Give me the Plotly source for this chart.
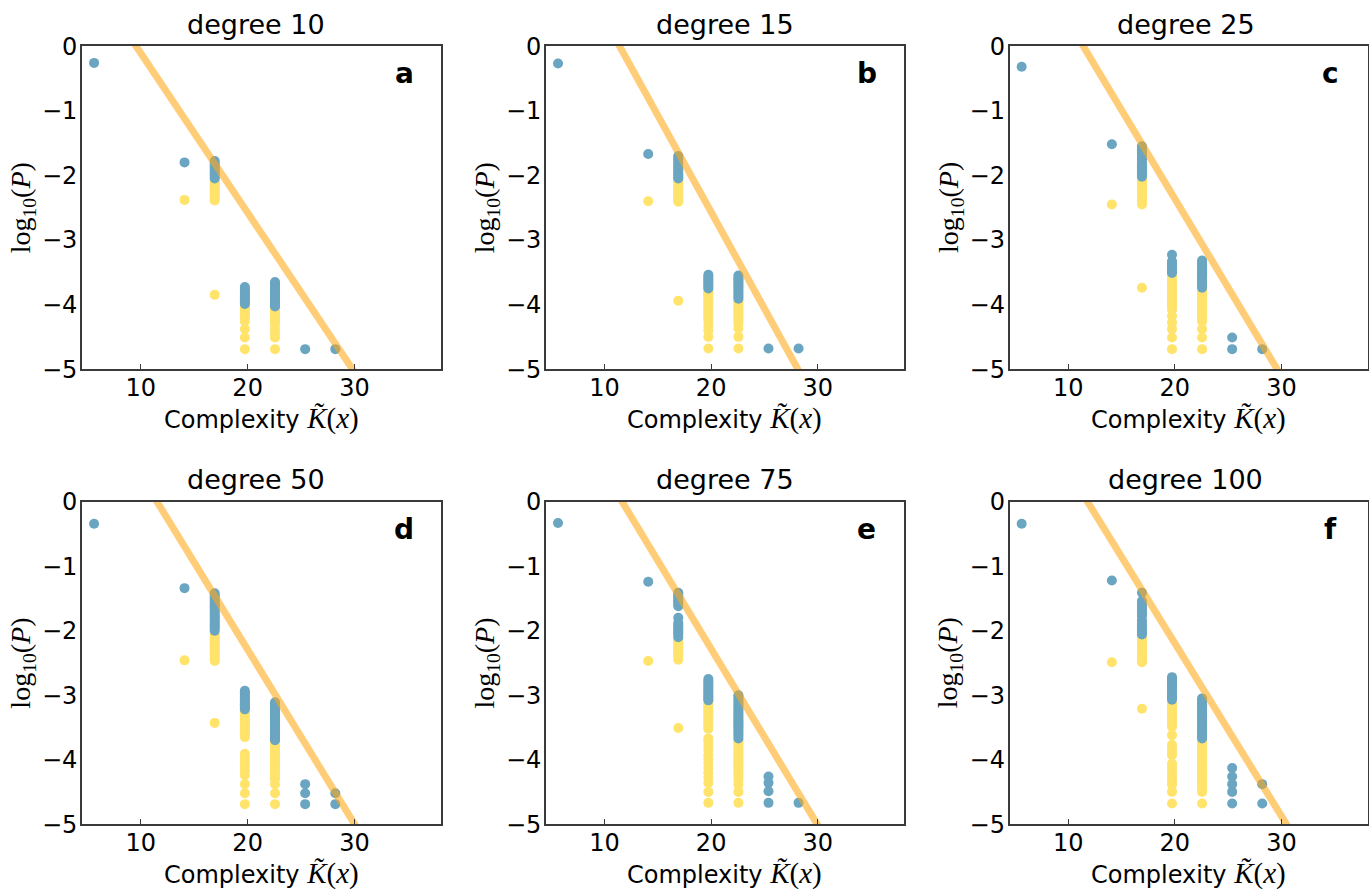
import plotly.graph_objects as go

# Complexity levels (x positions of the point columns)
complexity = [5.64, 14.10, 16.92, 19.74, 22.56, 25.38, 28.20]

degrees = [10, 15, 25, 50, 75, 100]
panel_letters = ["a", "b", "c", "d", "e", "f"]

# log10(P) values per complexity column: blue = sampled, yellow = predicted
blue_deg10 = [
    [-0.26],
    [-1.80],
    [-1.78, -1.81, -1.84, -1.87, -1.90, -1.93, -1.96, -1.99, -2.02, -2.05],
    [-3.73, -3.76, -3.79, -3.82, -3.85, -3.88, -3.91, -3.94, -3.97, -3.99],
    [-3.65, -3.68, -3.71, -3.74, -3.77, -3.80, -3.83, -3.86, -3.89, -3.92, -3.95, -3.98, -4.01, -4.03],
    [-4.69],
    [-4.69],
]
yellow_deg10 = [
    [],
    [-2.38],
    [-2.08, -2.11, -2.14, -2.17, -2.20, -2.23, -2.26, -2.29, -2.32, -2.35, -2.39, -3.85],
    [-4.02, -4.05, -4.08, -4.11, -4.14, -4.17, -4.20, -4.26, -4.38, -4.51, -4.69],
    [-4.06, -4.09, -4.12, -4.15, -4.18, -4.21, -4.26, -4.31, -4.38, -4.44, -4.51, -4.69],
    [],
    [],
]

blue_deg15 = [
    [-0.27],
    [-1.67],
    [-1.70, -1.73, -1.76, -1.79, -1.82, -1.85, -1.88, -1.91, -1.94, -1.97, -2.00, -2.03, -2.05],
    [-3.54, -3.57, -3.60, -3.63, -3.66, -3.69, -3.72, -3.75],
    [-3.55, -3.58, -3.61, -3.64, -3.67, -3.70, -3.73, -3.76, -3.79, -3.82, -3.85, -3.88, -3.91],
    [-4.68],
    [-4.68],
]
yellow_deg15 = [
    [],
    [-2.40],
    [-2.09, -2.12, -2.15, -2.18, -2.21, -2.24, -2.27, -2.30, -2.33, -2.36, -2.39, -2.41, -3.94],
    [-3.78, -3.81, -3.84, -3.87, -3.90, -3.93, -3.96, -3.99, -4.02, -4.05, -4.08, -4.11, -4.14,
     -4.17, -4.21, -4.26, -4.33, -4.40, -4.50, -4.68],
    [-3.94, -3.97, -4.00, -4.03, -4.06, -4.09, -4.12, -4.15, -4.18, -4.22, -4.26, -4.31, -4.37,
     -4.50, -4.68],
    [],
    [],
]

blue_deg25 = [
    [-0.32],
    [-1.52],
    [-1.55, -1.58, -1.61, -1.64, -1.67, -1.70, -1.73, -1.76, -1.79, -1.82, -1.85, -1.88, -1.91,
     -1.94, -1.97, -2.00, -2.02],
    [-3.23, -3.33, -3.36, -3.39, -3.42, -3.45, -3.48, -3.51],
    [-3.32, -3.35, -3.38, -3.41, -3.44, -3.47, -3.50, -3.53, -3.56, -3.59, -3.62, -3.65, -3.68,
     -3.71, -3.74],
    [-4.51, -4.69],
    [-4.69],
]
yellow_deg25 = [
    [],
    [-2.45],
    [-2.05, -2.08, -2.11, -2.14, -2.17, -2.20, -2.23, -2.26, -2.29, -2.32, -2.35, -2.38, -2.41,
     -2.45, -3.74],
    [-3.54, -3.57, -3.60, -3.63, -3.66, -3.69, -3.72, -3.75, -3.78, -3.81, -3.84, -3.87, -3.90,
     -3.93, -3.96, -3.99, -4.02, -4.05, -4.08, -4.18, -4.28, -4.38, -4.51, -4.69],
    [-3.77, -3.80, -3.83, -3.86, -3.89, -3.92, -3.95, -3.98, -4.01, -4.04, -4.07, -4.10, -4.13,
     -4.16, -4.20, -4.26, -4.38, -4.51, -4.69],
    [],
    [],
]

blue_deg50 = [
    [-0.34],
    [-1.34],
    [-1.42, -1.45, -1.48, -1.51, -1.54, -1.57, -1.60, -1.63, -1.66, -1.69, -1.72, -1.75, -1.78,
     -1.81, -1.84, -1.87, -1.90, -1.93, -1.96, -2.00],
    [-2.93, -2.96, -2.99, -3.02, -3.05, -3.08, -3.11, -3.14, -3.17, -3.20, -3.22],
    [-3.11, -3.14, -3.17, -3.20, -3.23, -3.26, -3.29, -3.32, -3.35, -3.38, -3.41, -3.44, -3.47,
     -3.50, -3.53, -3.56, -3.59, -3.62, -3.65, -3.68, -3.70],
    [-4.38, -4.52, -4.69],
    [-4.52, -4.69],
]
yellow_deg50 = [
    [],
    [-2.46],
    [-2.06, -2.09, -2.12, -2.15, -2.18, -2.21, -2.24, -2.27, -2.30, -2.33, -2.36, -2.39, -2.42,
     -2.45, -2.47, -3.43],
    [-3.26, -3.29, -3.32, -3.35, -3.38, -3.41, -3.44, -3.47, -3.50, -3.53, -3.56, -3.59, -3.62,
     -3.65, -3.91, -3.97, -4.04, -4.10, -4.17, -4.24, -4.38, -4.52, -4.69],
    [-3.73, -3.76, -3.79, -3.82, -3.85, -3.88, -3.91, -3.94, -3.97, -4.00, -4.03, -4.06, -4.09,
     -4.12, -4.15, -4.18, -4.22, -4.26, -4.30, -4.38, -4.52, -4.69],
    [],
    [],
]

blue_deg75 = [
    [-0.33],
    [-1.24],
    [-1.41, -1.44, -1.47, -1.50, -1.53, -1.56, -1.59, -1.62, -1.80, -1.88, -1.91, -1.94, -1.97,
     -2.00, -2.03, -2.06, -2.10],
    [-2.75, -2.78, -2.81, -2.84, -2.87, -2.90, -2.93, -2.96, -2.99, -3.02, -3.05, -3.08],
    [-3.00, -3.03, -3.06, -3.09, -3.12, -3.15, -3.18, -3.21, -3.24, -3.27, -3.30, -3.33, -3.36,
     -3.39, -3.42, -3.45, -3.48, -3.51, -3.54, -3.57, -3.60, -3.63, -3.67],
    [-4.26, -4.36, -4.49, -4.67],
    [-4.67],
]
yellow_deg75 = [
    [],
    [-2.47],
    [-2.14, -2.17, -2.20, -2.23, -2.26, -2.29, -2.32, -2.35, -2.38, -2.41, -2.45, -3.51],
    [-3.13, -3.16, -3.19, -3.22, -3.25, -3.28, -3.31, -3.34, -3.37, -3.40, -3.43, -3.46, -3.49,
     -3.52, -3.67, -3.72, -3.78, -3.85, -3.93, -3.99, -4.06, -4.13, -4.20, -4.28, -4.36, -4.50,
     -4.67],
    [-3.70, -3.73, -3.76, -3.79, -3.82, -3.85, -3.88, -3.91, -3.94, -3.97, -4.00, -4.03, -4.06,
     -4.09, -4.12, -4.15, -4.19, -4.23, -4.27, -4.32, -4.39, -4.50, -4.67],
    [],
    [],
]

blue_deg100 = [
    [-0.34],
    [-1.22],
    [-1.41, -1.54, -1.58, -1.62, -1.66, -1.70, -1.74, -1.77, -1.84, -1.88, -1.92, -1.96, -2.00,
     -2.03, -2.06],
    [-2.72, -2.75, -2.78, -2.81, -2.84, -2.87, -2.90, -2.93, -2.96, -2.99, -3.02, -3.05, -3.07],
    [-3.05, -3.08, -3.11, -3.14, -3.17, -3.20, -3.23, -3.26, -3.29, -3.32, -3.35, -3.38, -3.41,
     -3.44, -3.47, -3.50, -3.53, -3.56, -3.59, -3.62, -3.65, -3.67],
    [-4.13, -4.26, -4.38, -4.50, -4.68],
    [-4.38, -4.68],
]
yellow_deg100 = [
    [],
    [-2.49],
    [-2.10, -2.13, -2.16, -2.19, -2.22, -2.25, -2.28, -2.31, -2.34, -2.37, -2.40, -2.43, -2.46,
     -2.49, -3.21],
    [-3.13, -3.16, -3.19, -3.22, -3.25, -3.28, -3.31, -3.34, -3.37, -3.40, -3.43, -3.46, -3.49,
     -3.62, -3.77, -3.82, -3.88, -3.93, -4.06, -4.11, -4.17, -4.23, -4.29, -4.34, -4.39, -4.50,
     -4.68],
    [-3.72, -3.75, -3.78, -3.81, -3.84, -3.87, -3.90, -3.93, -3.96, -3.99, -4.02, -4.05, -4.08,
     -4.11, -4.14, -4.17, -4.20, -4.23, -4.27, -4.31, -4.35, -4.40, -4.45, -4.50, -4.68],
    [],
    [],
]

blue_sets = [blue_deg10, blue_deg15, blue_deg25, blue_deg50, blue_deg75, blue_deg100]
yellow_sets = [yellow_deg10, yellow_deg15, yellow_deg25, yellow_deg50, yellow_deg75, yellow_deg100]

# Upper-bound line log10(P) = intercept + slope * K for each degree
fit_slope = [-0.2470, -0.2990, -0.2749, -0.2707, -0.2735, -0.2681]
fit_intercept = [2.362, 3.412, 3.137, 3.121, 3.189, 3.169]

x_ticks = [10, 20, 30]
y_ticks = [0, -1, -2, -3, -4, -5]
x_range = [4.5, 38.1]
y_range = [-5, 0]

BLUE = "#6aa5c1"
YELLOW = "#ffe36b"
LINE = "rgba(255,168,20,0.58)"
FRAME = "#3a3a3a"
SANS = "DejaVu Sans"
SERIF = "Liberation Serif"

W, H = 1369, 894
# Panel frames in screen pixels (left, right) and (top, bottom)
col_px = [(84, 442), (546.3, 903.3), (1008.3, 1365.3)]
row_px = [(43.3, 368.3), (501.7, 826.0)]
# Horizontal nudge of each column's title text
title_shift = [-6, 0, -3]


def px_x(v):
    """Screen pixel column -> paper fraction."""
    return ((v - 2.4) / 0.9957) / W


def px_y(v):
    """Screen pixel row -> paper fraction."""
    return 1 - ((v - 11.0) / 0.9745) / H


fig = go.Figure()
layout = {}
annotations = []

for i, deg in enumerate(degrees):
    r, c = divmod(i, 3)
    n = i + 1
    xa = "x" if n == 1 else f"x{n}"
    ya = "y" if n == 1 else f"y{n}"
    x0, x1 = col_px[c]
    y0, y1 = row_px[r]

    yb = yellow_sets[i]
    bl = blue_sets[i]
    fig.add_trace(go.Scatter(
        x=[complexity[j] for j, col in enumerate(yb) for _ in col],
        y=[v for col in yb for v in col],
        mode="markers", xaxis=xa, yaxis=ya, showlegend=False,
        marker=dict(size=10, color=YELLOW, line=dict(width=0)),
        cliponaxis=True,
    ))
    fig.add_trace(go.Scatter(
        x=[complexity[j] for j, col in enumerate(bl) for _ in col],
        y=[v for col in bl for v in col],
        mode="markers", xaxis=xa, yaxis=ya, showlegend=False,
        marker=dict(size=10, color=BLUE, line=dict(width=0)),
        cliponaxis=True,
    ))
    fig.add_trace(go.Scatter(
        x=x_range,
        y=[fit_intercept[i] + fit_slope[i] * k for k in x_range],
        mode="lines", xaxis=xa, yaxis=ya, showlegend=False,
        line=dict(color=LINE, width=7),
    ))

    axis_common = dict(showgrid=False, zeroline=False, showline=True, mirror=True,
                       linecolor=FRAME, linewidth=1.5,
                       tickfont=dict(family=SANS, size=24, color="black"))
    layout["xaxis" if n == 1 else f"xaxis{n}"] = dict(
        axis_common, domain=[px_x(x0), px_x(x1)], anchor=ya, range=x_range,
        tickvals=x_ticks, ticktext=[str(t) for t in x_ticks],
        ticks="inside", ticklen=5, tickwidth=1, tickcolor=FRAME,
        ticklabelstandoff=-4,
    )
    layout["yaxis" if n == 1 else f"yaxis{n}"] = dict(
        axis_common, domain=[px_y(y1), px_y(y0)], anchor=xa, range=y_range,
        tickvals=y_ticks, ticktext=[("\u2212" + str(-t)) if t < 0 else str(t) for t in y_ticks],
        ticks="", ticklabelstandoff=-2,
    )

    cx = (x0 + x1) / 2
    annotations.append(dict(
        text=f"degree {deg}", xref="paper", yref="paper",
        x=px_x(cx + title_shift[c]), y=px_y(y0 - 22), xanchor="center", yanchor="middle",
        showarrow=False, font=dict(family=SANS, size=27, color="black"),
    ))
    annotations.append(dict(
        text=f"<b>{panel_letters[i]}</b>", xref="paper", yref="paper",
        x=px_x(x1 - 37), y=px_y(y0 + 28), xanchor="center", yanchor="middle",
        showarrow=False, font=dict(family=SANS, size=28, color="black"),
    ))
    annotations.append(dict(
        text=("Complexity <span style='font-family:" + SERIF + ";font-size:29px'>"
              "<i>K\u0303</i>(<i>x</i>)</span>"),
        xref="paper", yref="paper",
        x=px_x(cx), y=px_y(y1 + 50), xanchor="center", yanchor="middle",
        showarrow=False, font=dict(family=SANS, size=24, color="black"),
    ))
    annotations.append(dict(
        text="log<sub>10</sub>(<i>P</i>)", xref="paper", yref="paper",
        x=px_x(x0 - 59), y=px_y((y0 + y1) / 2), xanchor="center", yanchor="middle",
        textangle=-90, showarrow=False, font=dict(family=SERIF, size=28, color="black"),
    ))

fig.update_layout(
    **layout,
    annotations=annotations,
    width=W, height=H,
    margin=dict(l=0, r=0, t=0, b=0),
    paper_bgcolor="white", plot_bgcolor="white",
    font=dict(family=SANS, color="black"),
)

fig.write_html("out.html", config={"displayModeBar": False})
